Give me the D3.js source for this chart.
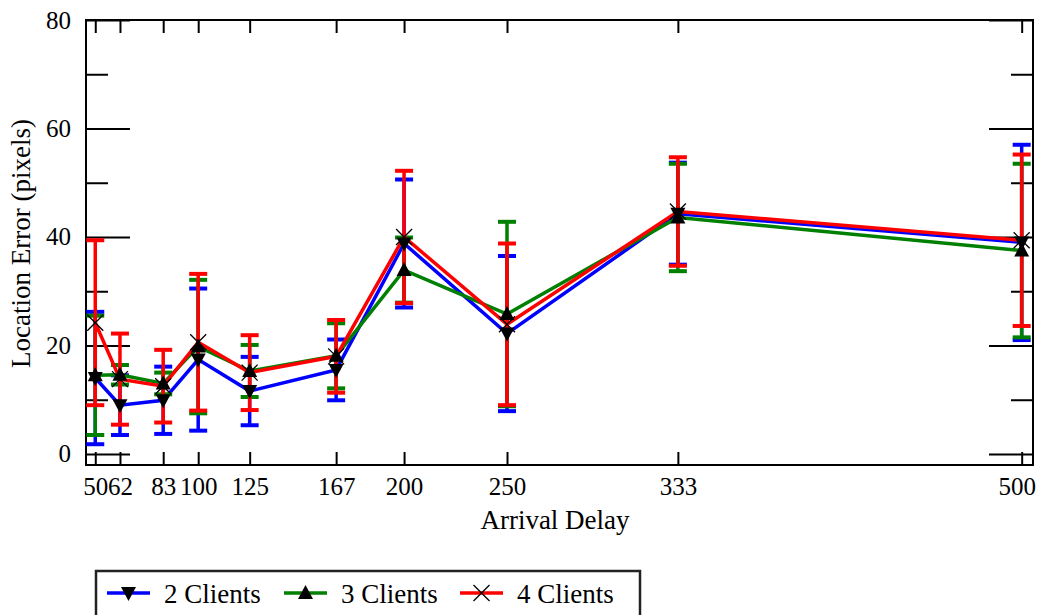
<!DOCTYPE html>
<html><head><meta charset="utf-8">
<script src="https://cdn.jsdelivr.net/npm/d3@7"></script>
<style>
html,body{margin:0;padding:0;background:#fff;}
svg{display:block;}
svg text{font-family:"Liberation Serif","Times New Roman",serif !important;fill:#000;}
</style></head><body>
<svg id="chart" width="1039" height="615"></svg>
<script>
const delays = [50, 62, 83, 100, 125, 167, 200, 250, 333, 500];
const clients2Mean = [14.0, 9.0, 9.9, 17.4, 11.6, 15.5, 38.8, 22.2, 44.3, 39.0];
const clients2Err  = [12.2, 5.5, 6.2, 13.1, 6.3, 5.6, 11.8, 14.3, 9.4, 18.0];
const clients3Mean = [14.5, 14.6, 13.0, 19.8, 15.3, 18.1, 33.9, 25.8, 43.6, 37.5];
const clients3Err  = [11.0, 1.8, 2.0, 12.3, 4.8, 6.0, 6.0, 17.0, 9.9, 16.0];
const clients4Mean = [24.2, 13.8, 12.5, 20.6, 15.0, 18.0, 40.0, 23.9, 44.7, 39.4];
const clients4Err  = [15.2, 8.4, 6.7, 12.6, 6.9, 6.7, 12.2, 14.9, 10.0, 15.8];
const seriesNames = ["2 Clients", "3 Clients", "4 Clients"];
const yMajorTicks = [0, 20, 40, 60, 80];
const yMinorTicks = [10, 30, 50, 70];
const xTitle = "Arrival Delay";
const yTitle = "Location Error (pixels)";

(function () {
const colors = ["#0000FF", "#008000", "#FF0000"];
const markers = ["down", "up", "x"];
const seriesData = [
  [clients2Mean, clients2Err],
  [clients3Mean, clients3Err],
  [clients4Mean, clients4Err]
].map(([m, e], i) => ({
  name: seriesNames[i], color: colors[i], marker: markers[i],
  pts: delays.map((d, j) => ({x: d, m: m[j], e: e[j]}))
}));

const svg = d3.select("#chart");
const pL = 86, pR = 1033, pT = 20, pB = 465;
const x = d3.scaleLinear().domain([45.5, 505.5]).range([pL, pR]);
const y = d3.scaleLinear().domain([-2.03, 80]).range([pB, pT]);
const FONT = '"Liberation Serif","Times New Roman",serif';

function axisG(axis, tx, ty) {
  const g = svg.append("g").attr("transform", `translate(${tx},${ty})`).call(axis);
  g.select(".domain").remove();
  g.selectAll(".tick line").attr("stroke", "#000").attr("stroke-width", 2);
  g.attr("font-family", FONT).attr("font-size", 25);
  g.selectAll("text").attr("fill", "#000").attr("font-family", FONT);
  return g;
}
axisG(d3.axisRight(y).tickValues(yMajorTicks).tickSize(44).tickFormat(""), pL, 0);
axisG(d3.axisRight(y).tickValues(yMinorTicks).tickSize(22).tickFormat(""), pL, 0);
axisG(d3.axisLeft(y).tickValues(yMajorTicks).tickSize(44).tickFormat(""), pR, 0);
axisG(d3.axisLeft(y).tickValues(yMinorTicks).tickSize(22).tickFormat(""), pR, 0);
axisG(d3.axisLeft(y).tickValues(yMajorTicks).tickSize(0).tickPadding(15), pL, 0);
axisG(d3.axisTop(x).tickValues(delays).tickSize(13).tickFormat(""), 0, pB);
axisG(d3.axisBottom(x).tickValues(delays).tickSize(13).tickFormat(""), 0, pT);
const xl = axisG(d3.axisBottom(x).tickValues(delays).tickSize(0).tickPadding(12.5), 0, pB);
// keep the last label inside the picture, as in the reference
xl.selectAll(".tick text").filter(d => d === delays[delays.length - 1]).attr("dx", -5);

svg.append("rect").attr("x", pL).attr("y", pT).attr("width", pR - pL).attr("height", pB - pT)
  .attr("fill", "none").attr("stroke", "#000").attr("stroke-width", 2);

svg.append("text").attr("x", 555).attr("y", 529).attr("text-anchor", "middle")
  .attr("font-family", FONT).attr("font-size", 27).text(xTitle);
svg.append("text").attr("transform", `translate(30,${(pT + pB) / 2 + 1}) rotate(-90)`)
  .attr("text-anchor", "middle").attr("font-family", FONT).attr("font-size", 27).text(yTitle);

const line = d3.line().x(d => x(d.x)).y(d => y(d.m));
const capW = 9;
seriesData.forEach(s => {
  const g = svg.append("g");
  g.append("path").attr("d", line(s.pts)).attr("fill", "none")
    .attr("stroke", s.color).attr("stroke-width", 3.5);
  const eb = g.selectAll(".eb").data(s.pts).join("g");
  eb.append("line").attr("x1", d => x(d.x)).attr("x2", d => x(d.x))
    .attr("y1", d => y(d.m - d.e)).attr("y2", d => y(d.m + d.e))
    .attr("stroke", s.color).attr("stroke-width", 3.5);
  [-1, 1].forEach(sg => {
    eb.append("line").attr("x1", d => x(d.x) - capW).attr("x2", d => x(d.x) + capW)
      .attr("y1", d => y(d.m + sg * d.e)).attr("y2", d => y(d.m + sg * d.e))
      .attr("stroke", s.color).attr("stroke-width", 4);
  });
});

function drawMarker(g, type, cx, cy) {
  if (type === "down") {
    g.append("path").attr("d", `M${cx - 7.5},${cy - 6}L${cx + 7.5},${cy - 6}L${cx},${cy + 8}Z`).attr("fill", "#000");
  } else if (type === "up") {
    g.append("path").attr("d", `M${cx - 7.5},${cy + 6}L${cx + 7.5},${cy + 6}L${cx},${cy - 8}Z`).attr("fill", "#000");
  } else {
    g.append("path").attr("d", `M${cx - 8},${cy - 8}L${cx + 8},${cy + 8}M${cx - 8},${cy + 8}L${cx + 8},${cy - 8}`)
      .attr("stroke", "#000").attr("stroke-width", 1.3).attr("fill", "none");
  }
}
const mg = svg.append("g");
seriesData.forEach(s => s.pts.forEach(d => drawMarker(mg, s.marker, x(d.x), y(d.m))));

const lg = svg.append("g");
lg.append("rect").attr("x", 96).attr("y", 571).attr("width", 544).attr("height", 70)
  .attr("fill", "#fff").attr("stroke", "#222").attr("stroke-width", 2.5);
const legX = [107, 284, 460];
seriesData.forEach((s, i) => {
  const lx = legX[i], ly = 593;
  lg.append("line").attr("x1", lx).attr("x2", lx + 43).attr("y1", ly).attr("y2", ly)
    .attr("stroke", s.color).attr("stroke-width", 3.5);
  drawMarker(lg, s.marker, lx + 21.5, ly);
  lg.append("text").attr("x", lx + 57).attr("y", 603).attr("font-family", FONT)
    .attr("font-size", 27).text(s.name);
});
})();
</script></body></html>
